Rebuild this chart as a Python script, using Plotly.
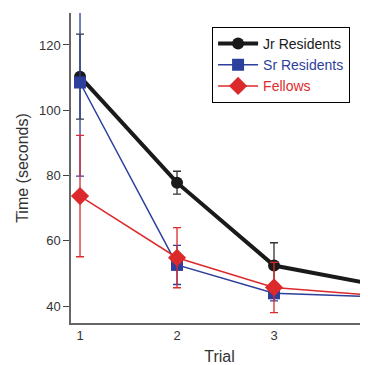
import plotly.graph_objects as go

trials = [1, 2, 3, 4]
jr = [110.3, 77.8, 52.4, 46.8]
jr_err = [13.0, 3.5, 7.0, 2.0]
sr = [108.5, 52.6, 43.9, 42.9]
sr_err = [28.7, 6.0, 2.3, 1.0]
fel = [73.7, 54.8, 45.7, 43.3]
fel_err = [18.6, 9.2, 7.7, 1.0]

BLACK = "#1a1a1a"
BLUE = "#2c3f9c"
RED = "#dc2a2c"

fig = go.Figure()
fig.add_trace(go.Scatter(
    x=trials, y=jr, name="Jr Residents",
    mode="lines+markers", line=dict(color=BLACK, width=4),
    marker=dict(symbol="circle", size=12, color=BLACK),
    error_y=dict(type="data", array=jr_err, color="#333333", thickness=1.3, width=4),
    cliponaxis=False))
fig.add_trace(go.Scatter(
    x=trials, y=sr, name=f"<span style='color:{BLUE}'>Sr Residents</span>",
    mode="lines+markers", line=dict(color=BLUE, width=1.5),
    marker=dict(symbol="square", size=12, color=BLUE),
    error_y=dict(type="data", array=sr_err, color=BLUE, thickness=1.3, width=4),
    cliponaxis=False))
fig.add_trace(go.Scatter(
    x=trials, y=fel, name=f"<span style='color:{RED}'>Fellows</span>",
    mode="lines+markers", line=dict(color=RED, width=1.5),
    marker=dict(symbol="diamond", size=14, color=RED),
    error_y=dict(type="data", array=fel_err, color=RED, thickness=1.3, width=4),
    cliponaxis=False))

fig.add_annotation(x=4, y=0, xref="x", yref="paper", text="4", showarrow=False,
                   yshift=-18, font=dict(size=13, color="#333333"))

fig.update_layout(
    width=360, height=357,
    margin=dict(l=63, r=0, t=5, b=42, autoexpand=False),
    paper_bgcolor="white", plot_bgcolor="white",
    font=dict(family="Liberation Sans, Arial, sans-serif", size=13, color="#333333"),
    showlegend=True,
    legend=dict(x=0.475, y=0.955, xanchor="left", yanchor="top",
                bordercolor="black", borderwidth=1, bgcolor="white",
                traceorder="normal", font=dict(size=14, color=BLACK),
                itemwidth=40, tracegroupgap=0),
    xaxis=dict(range=[0.907, 3.969], tickvals=[1, 2, 3], ticks="", showgrid=False,
               zeroline=False, showline=True, linecolor="#666666", linewidth=1.5,
               automargin=False,
               title=dict(text="Trial", font=dict(size=16), standoff=8),
               tickfont=dict(size=13)),
    yaxis=dict(range=[34.8, 129.8], tickvals=[40, 60, 80, 100, 120], ticks="outside",
               ticklen=6, tickcolor="#444444", tickwidth=1, showgrid=False,
               zeroline=False, showline=True, linecolor="#666666", linewidth=1.5,
               automargin=False,
               title=dict(text="Time (seconds)", font=dict(size=16), standoff=6),
               tickfont=dict(size=13)),
)

fig.write_html("out.html")
